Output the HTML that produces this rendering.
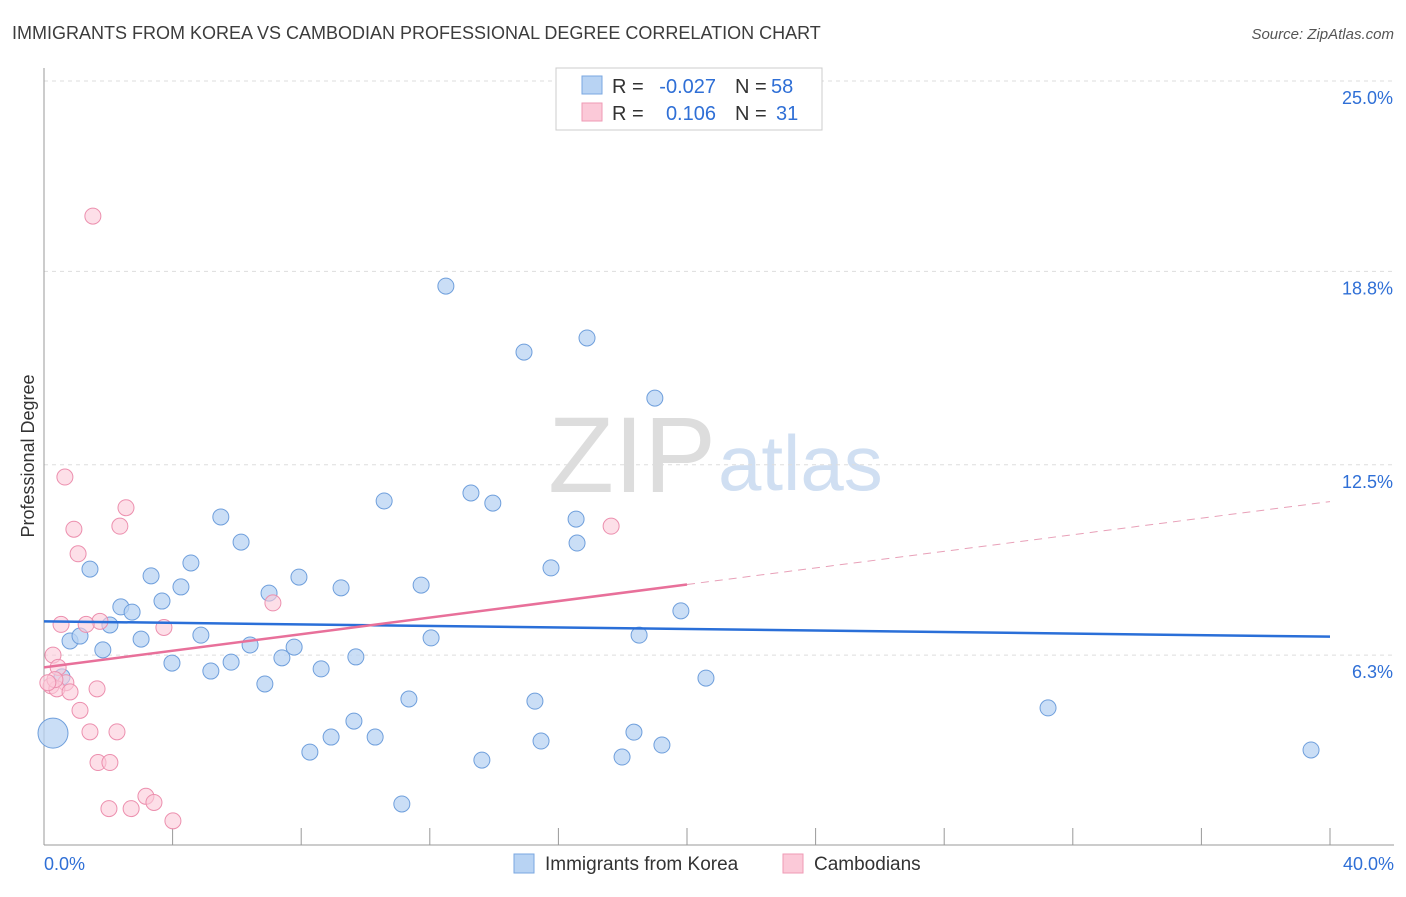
<!DOCTYPE html>
<html><head><meta charset="utf-8"><style>
body{margin:0;background:#fff;font-family:"Liberation Sans",sans-serif;}
svg text{font-family:"Liberation Sans",sans-serif;}
</style></head><body>
<svg id="chart" width="1406" height="892" viewBox="0 0 1406 892" xmlns="http://www.w3.org/2000/svg">
<text x="12" y="39" font-size="18" fill="#3c3c3c">IMMIGRANTS FROM KOREA VS CAMBODIAN PROFESSIONAL DEGREE CORRELATION CHART</text>
<text x="1394" y="39" font-size="15" fill="#555" text-anchor="end" font-style="italic">Source: ZipAtlas.com</text>
<text x="34" y="456" font-size="18" fill="#333" text-anchor="middle" transform="rotate(-90 34 456)">Professional Degree</text>
<text x="716" y="492" font-size="108" fill="#ddd" text-anchor="end" font-family="Liberation Serif">ZIP</text>
<text x="718" y="490" font-size="78" fill="#d0dff2">atlas</text>
<g id="grid"></g><g id="axes"></g><g id="pts"></g><g id="trends"></g>
<g>
<rect x="556" y="68" width="266" height="62" fill="#fff" stroke="#ccc"/>
<rect x="582" y="76" width="20" height="18" fill="#b8d3f3" stroke="#7aa7e0"/>
<rect x="582" y="103" width="20" height="18" fill="#fbc9d8" stroke="#ef9ab5"/>
<text x="612" y="93" font-size="20" fill="#333">R =</text>
<text x="716" y="93" font-size="20" fill="#2f6fd6" text-anchor="end">-0.027</text>
<text x="735" y="93" font-size="20" fill="#333">N =</text>
<text x="771" y="93" font-size="20" fill="#2f6fd6">58</text>
<text x="612" y="120" font-size="20" fill="#333">R =</text>
<text x="716" y="120" font-size="20" fill="#2f6fd6" text-anchor="end">0.106</text>
<text x="735" y="120" font-size="20" fill="#333">N =</text>
<text x="776" y="120" font-size="20" fill="#2f6fd6">31</text>
</g>
<g>
<rect x="514" y="854" width="20" height="19" fill="#b8d3f3" stroke="#7aa7e0"/>
<text x="545" y="870" font-size="19" fill="#333">Immigrants from Korea</text>
<rect x="783" y="854" width="20" height="19" fill="#fbc9d8" stroke="#ef9ab5"/>
<text x="814" y="870" font-size="19" fill="#333">Cambodians</text>
</g>
<text x="44" y="870" font-size="18" fill="#2f6fd6">0.0%</text>
<text x="1394" y="870" font-size="18" fill="#2f6fd6" text-anchor="end">40.0%</text>
</svg>
<script>
const yTicks=[25.0,18.8,12.5,6.3];
const yTickLabels=["25.0%","18.8%","12.5%","6.3%"];
const xTicks=[0,4,8,12,16,20,24,28,32,36,40];
const koreaX=[0.28,0.81,1.12,1.43,1.83,2.05,2.39,2.74,3.02,3.33,3.67,3.98,4.26,4.57,4.88,5.19,5.50,5.82,6.13,6.41,6.87,7.00,7.40,7.78,7.93,8.27,8.62,8.93,9.24,9.64,9.70,10.30,10.58,11.13,11.35,11.73,12.04,12.50,13.28,13.62,13.96,14.93,15.27,15.46,15.77,16.55,16.58,16.89,17.98,18.35,18.51,19.00,19.22,19.81,20.59,31.23,39.41,0.56];
const koreaY=[3.76,6.76,6.92,9.10,6.47,7.28,7.87,7.70,6.82,8.88,8.06,6.04,8.52,9.30,6.95,5.78,10.80,6.07,9.98,6.63,5.36,8.32,6.21,6.56,8.84,3.14,5.85,3.63,8.49,4.15,6.24,3.63,11.32,1.45,4.87,8.58,6.86,18.32,11.58,2.88,11.25,16.17,4.80,3.50,9.14,10.73,9.95,16.63,2.98,3.79,6.95,14.67,3.37,7.74,5.55,4.58,3.21,5.59];
const cambX=[1.52,0.65,0.93,2.55,2.36,1.06,17.64,7.12,3.73,1.74,0.53,1.31,0.28,0.44,0.68,0.22,0.40,0.81,1.65,1.12,1.43,2.27,1.68,2.05,3.17,2.02,2.71,3.42,4.01,0.34,0.12];
const cambY=[20.6,12.1,10.4,11.1,10.5,9.6,10.5,8.0,7.2,7.4,7.3,7.3,6.3,5.9,5.4,5.3,5.2,5.1,5.2,4.5,3.8,3.8,2.8,2.8,1.7,1.3,1.3,1.5,0.9,5.5,5.4];
const koreaTrendY=[7.4,6.9];
const cambTrendY=[5.9,8.6,11.3];
const X=v=>44+v*32.15, Y=v=>81+(25-v)*30.7;
const NS="http://www.w3.org/2000/svg";
function mk(p,t,a){const e=document.createElementNS(NS,t);for(const k in a)e.setAttribute(k,a[k]);p.appendChild(e);return e;}
const grid=document.getElementById('grid'),axes=document.getElementById('axes'),pts=document.getElementById('pts'),tr=document.getElementById('trends');
yTicks.forEach((t,i)=>{
 const l=mk(grid,'line',{x1:44,x2:1394,y1:Y(t),y2:Y(t),stroke:'#ddd','stroke-dasharray':'4,4'});
 
 
 const tx=mk(grid,'text',{x:1393,y:Y(t)+23,'font-size':18,fill:'#2f6fd6','text-anchor':'end'});
 tx.textContent=yTickLabels[i];
 
 
});
mk(axes,'line',{x1:44,x2:44,y1:68,y2:845,stroke:'#999'});
mk(axes,'line',{x1:44,x2:1394,y1:845,y2:845,stroke:'#999'});
xTicks.forEach(t=>{const l=mk(axes,'line',{x1:X(t),x2:X(t),y1:828,y2:845,stroke:'#999'});
 
 });
koreaX.forEach((x,i)=>{const c=mk(pts,'circle',{cx:X(x),cy:Y(koreaY[i]),r:i===0?15:8,fill:'#b8d3f3','fill-opacity':0.75,stroke:'#6f9fdc','stroke-width':1});
 
 });
cambX.forEach((x,i)=>{const c=mk(pts,'circle',{cx:X(x),cy:Y(cambY[i]),r:8,fill:'#fbc9d8','fill-opacity':0.6,stroke:'#ec8fae','stroke-width':1});
 
 });
const kt=mk(tr,'line',{x1:X(0),y1:Y(koreaTrendY[0]),x2:X(40),y2:Y(koreaTrendY[1]),stroke:'#2a6fd8','stroke-width':2.5});


const ct=mk(tr,'line',{x1:X(0),y1:Y(cambTrendY[0]),x2:X(20),y2:Y(cambTrendY[1]),stroke:'#e8709a','stroke-width':2.5});


const cd=mk(tr,'line',{x1:X(20),y1:Y(cambTrendY[1]),x2:X(40),y2:Y(cambTrendY[2]),stroke:'#e8a0b8','stroke-width':1,'stroke-dasharray':'8,6'});


</script>
</body></html>
